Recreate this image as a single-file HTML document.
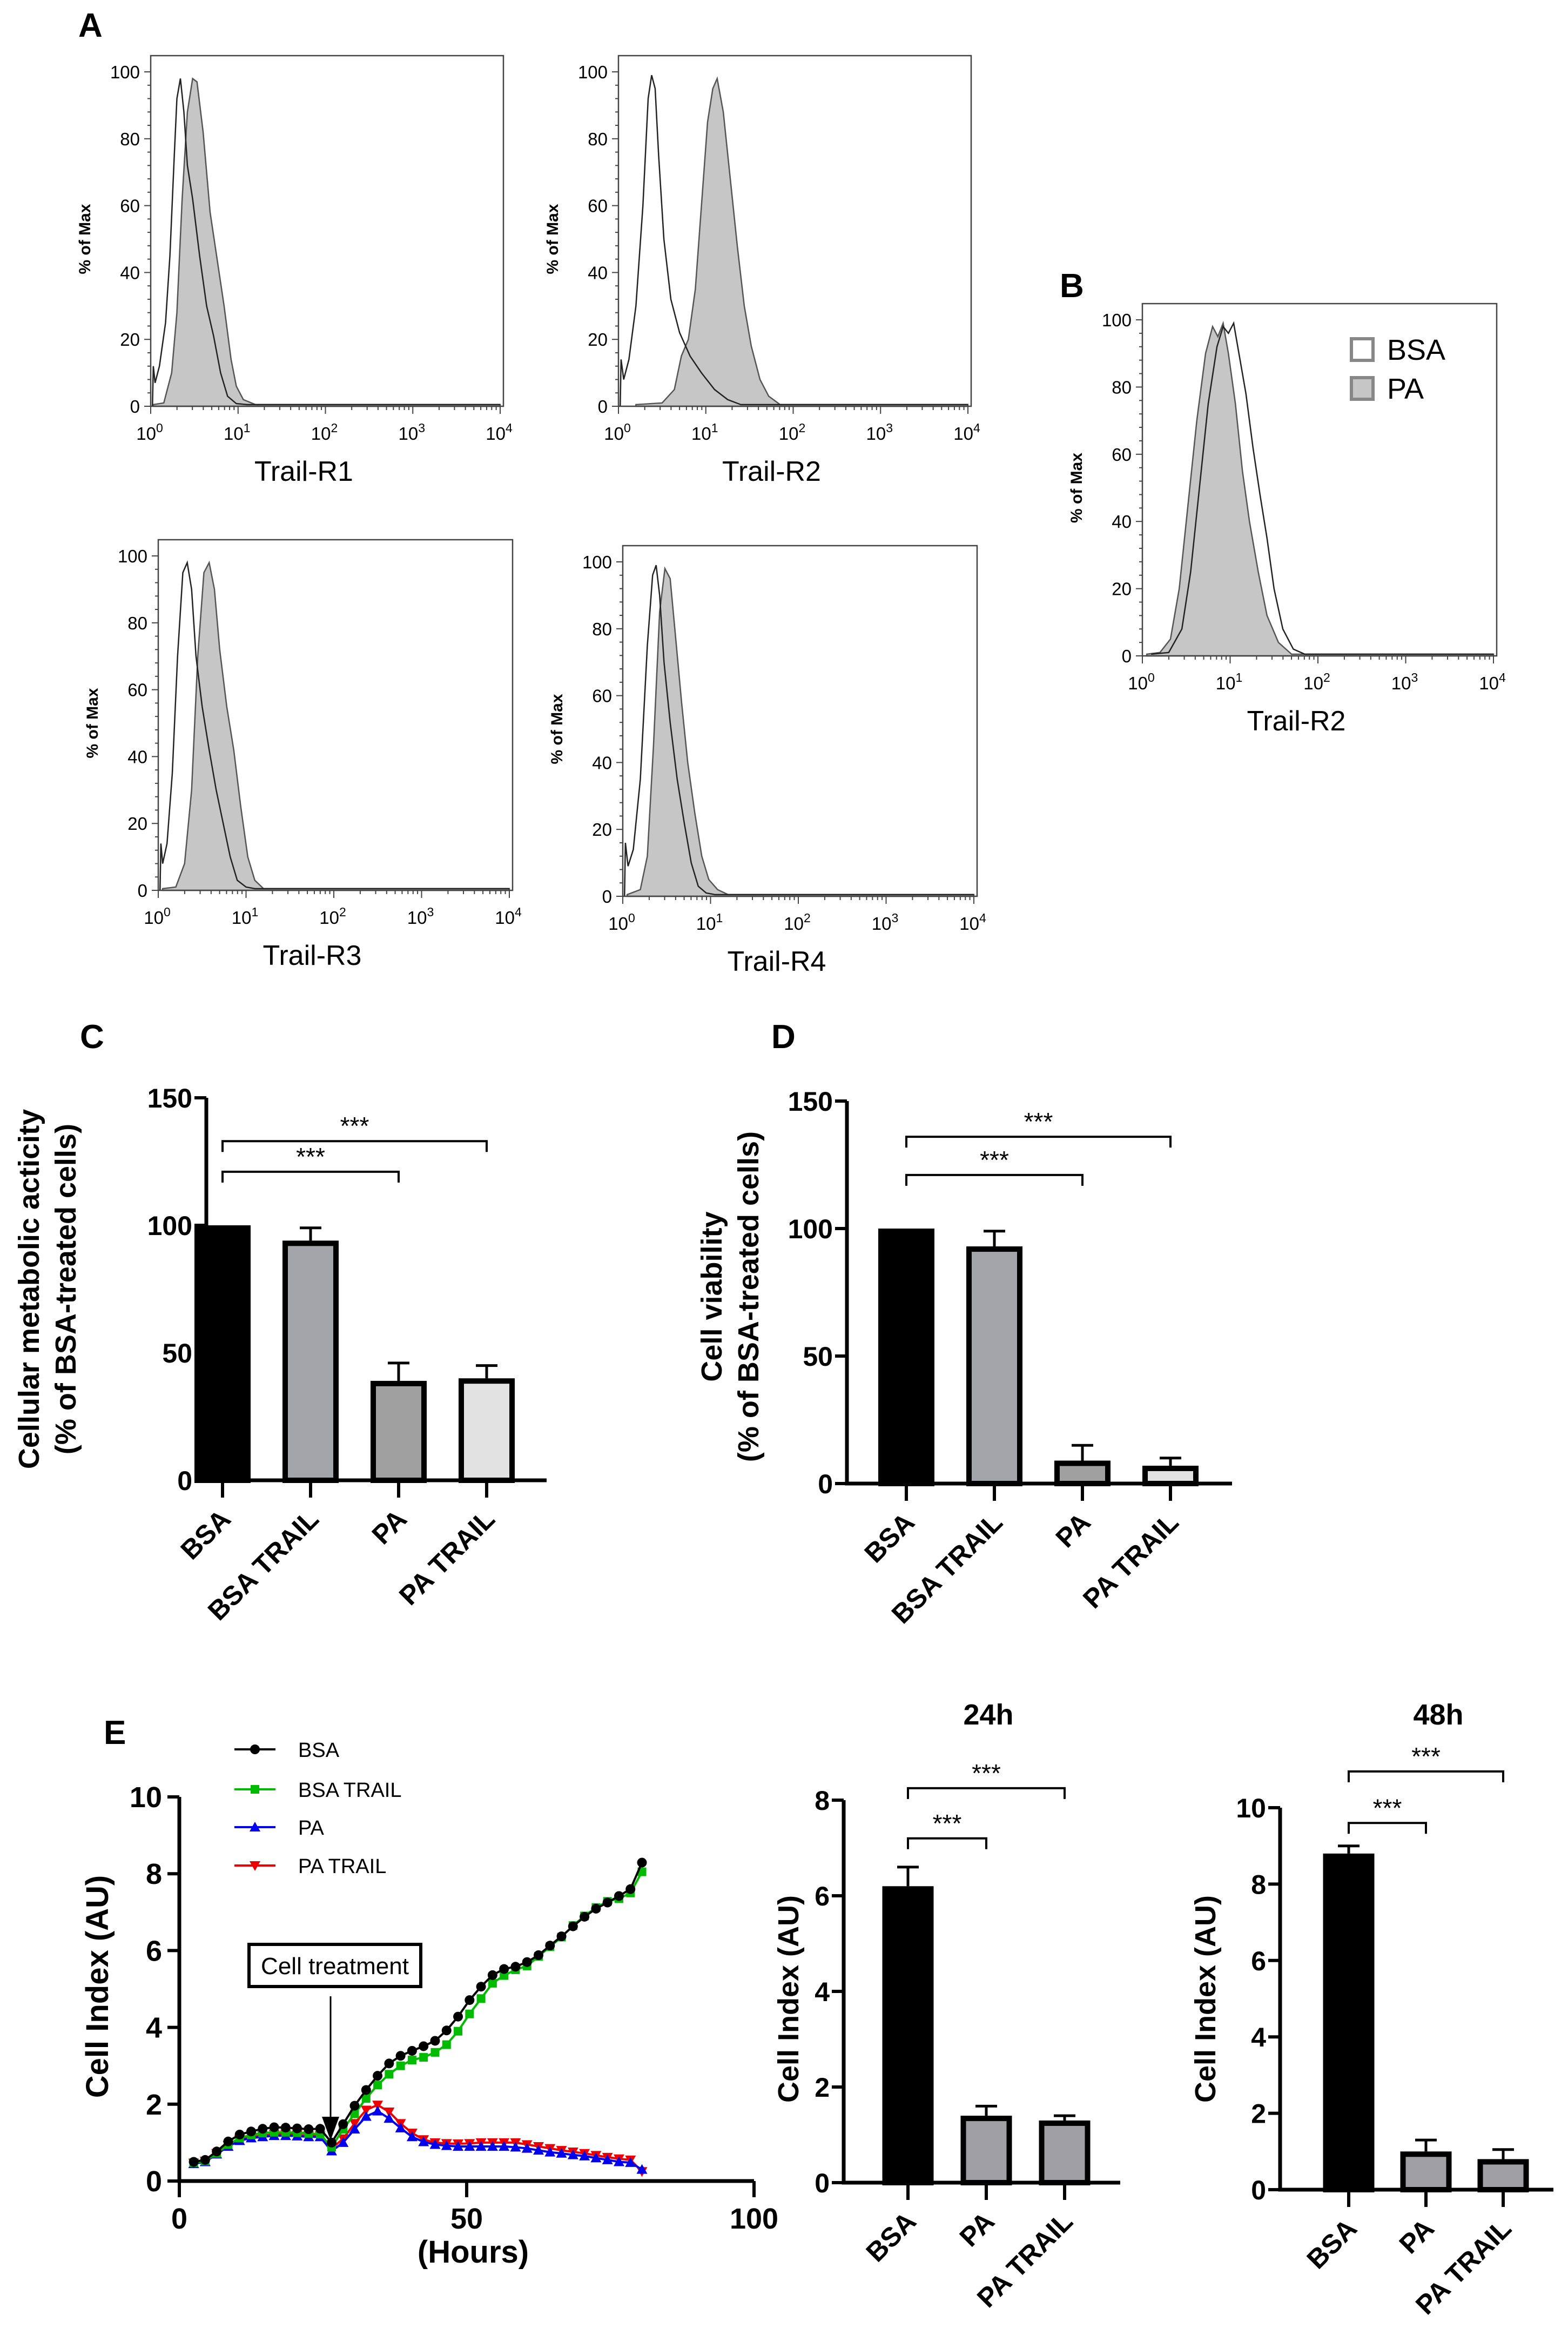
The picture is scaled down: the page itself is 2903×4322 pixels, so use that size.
<!DOCTYPE html>
<html><head><meta charset="utf-8"><style>
html,body{margin:0;padding:0;background:#fff;}
svg{display:block;font-family:"Liberation Sans",Arial,sans-serif;}
</style></head><body>
<svg id="fig" width="2903" height="4322" viewBox="0 0 2903 4322" xmlns="http://www.w3.org/2000/svg">
<rect width="2903" height="4322" fill="#fff"/>
<text x="145" y="68" font-size="62" font-weight="bold">A</text>
<text x="1962" y="550" font-size="62" font-weight="bold">B</text>
<text x="148" y="1940" font-size="62" font-weight="bold">C</text>
<text x="1428" y="1940" font-size="62" font-weight="bold">D</text>
<text x="192" y="3228" font-size="62" font-weight="bold">E</text>
</svg>
<script>
// ---- histogram data (log10 intensity, % of max) ----
const r1OpenX=[0.02,0.03,0.05,0.1,0.17,0.22,0.27,0.3,0.34,0.38,0.42,0.48,0.56,0.64,0.72,0.8,0.88,0.98,1.1,4];
const r1OpenY=[0,12,7,12,25,45,75,92,98,88,72,62,45,30,21,10,3,0.8,0.5,0.5];
const r1FillX=[0.03,0.15,0.24,0.3,0.36,0.42,0.48,0.53,0.6,0.68,0.76,0.84,0.92,0.98,1.06,1.2,4];
const r1FillY=[0.5,1,10,28,62,88,98,97,82,58,44,30,14,6,2,0.5,0.5];
const r2OpenX=[0.02,0.03,0.06,0.12,0.2,0.28,0.34,0.38,0.42,0.46,0.52,0.6,0.7,0.82,0.95,1.1,1.25,1.4,4];
const r2OpenY=[0,14,8,14,30,60,92,99,95,75,50,32,22,15,10,5,2,0.5,0.5];
const r2FillX=[0.2,0.5,0.64,0.72,0.8,0.88,0.95,1.02,1.08,1.13,1.2,1.28,1.36,1.44,1.52,1.62,1.72,1.85,4];
const r2FillY=[0.5,1,5,15,20,35,60,85,95,98,88,68,48,30,18,8,3,0.5,0.5];
const r3OpenX=[0.02,0.03,0.05,0.1,0.16,0.22,0.28,0.33,0.38,0.43,0.5,0.58,0.66,0.74,0.82,0.9,1.0,1.1,4];
const r3OpenY=[0,14,8,14,35,70,95,98,90,70,55,42,30,20,10,3,1,0.5,0.5];
const r3FillX=[0.05,0.2,0.3,0.38,0.45,0.52,0.58,0.64,0.7,0.78,0.86,0.94,1.02,1.1,1.2,4];
const r3FillY=[0.5,1,8,30,70,95,98,90,72,55,42,25,10,3,0.5,0.5];
const r4OpenX=[0.02,0.03,0.06,0.12,0.2,0.28,0.34,0.38,0.42,0.47,0.54,0.62,0.7,0.78,0.86,0.95,1.05,4];
const r4OpenY=[0,16,9,14,35,75,96,99,90,70,52,35,22,10,3,1,0.5,0.5];
const r4FillX=[0.05,0.2,0.28,0.35,0.42,0.48,0.54,0.6,0.67,0.74,0.82,0.9,0.98,1.08,1.2,4];
const r4FillY=[0.5,2,12,45,85,98,95,78,58,40,25,12,5,2,0.5,0.5];
const bOpenX=[0.1,0.3,0.45,0.55,0.65,0.75,0.85,0.92,0.98,1.04,1.1,1.18,1.26,1.34,1.42,1.5,1.6,1.72,1.85,4];
const bOpenY=[0.5,1,8,25,50,75,92,98,96,99,90,78,62,48,35,20,8,2,0.5,0.5];
const bFillX=[0.05,0.2,0.32,0.42,0.52,0.62,0.72,0.8,0.86,0.92,0.98,1.06,1.14,1.22,1.32,1.42,1.55,1.7,4];
const bFillY=[0.5,1,5,20,45,70,90,98,95,99,90,75,55,40,25,12,4,0.5,0.5];
const histYTicks=[0,20,40,60,80,100];
const histXExp=[0,1,2,3,4];

// ---- bar chart data ----
const cdCats=['BSA','BSA TRAIL','PA','PA TRAIL'];
const cVals=[100,94,39,40];
const cErrs=[0,5,7,5];
const dVals=[100,93,9,7];
const dErrs=[0,6,6,3];
const cdTicks=[0,50,100,150];
const eCats=['BSA','PA','PA TRAIL'];
const e24Vals=[6.2,1.4,1.3];
const e24Errs=[0.4,0.2,0.1];
const e24Ticks=[0,2,4,6,8];
const e48Vals=[8.8,1.0,0.8];
const e48Errs=[0.2,0.3,0.25];
const e48Ticks=[0,2,4,6,8,10];

// ---- line chart data ----
const hours=[2.5,4.5,6.5,8.5,10.5,12.5,14.5,16.5,18.5,20.5,22.5,24.5,26.5,28.5,30.5,32.5,34.5,36.5,38.5,40.5,42.5,44.5,46.5,48.5,50.5,52.5,54.5,56.5,58.5,60.5,62.5,64.5,66.5,68.5,70.5,72.5,74.5,76.5,78.5,80.5];
const bsa=[0.5,0.55,0.77,1.03,1.21,1.29,1.36,1.40,1.39,1.37,1.35,1.36,1.0,1.48,1.96,2.37,2.74,3.06,3.26,3.39,3.51,3.65,3.92,4.28,4.71,5.06,5.36,5.52,5.58,5.70,5.88,6.13,6.37,6.63,6.88,7.09,7.25,7.42,7.6,8.29];
const bsaTrail=[0.48,0.52,0.72,0.95,1.12,1.2,1.25,1.27,1.27,1.26,1.24,1.22,0.88,1.35,1.75,2.15,2.5,2.78,3.0,3.15,3.22,3.35,3.55,3.9,4.35,4.75,5.15,5.35,5.5,5.6,5.85,6.1,6.35,6.65,6.9,7.12,7.28,7.35,7.5,8.05];
const pa=[0.45,0.5,0.7,0.9,1.05,1.12,1.15,1.18,1.18,1.17,1.15,1.15,0.78,1.0,1.35,1.68,1.82,1.63,1.38,1.15,1.02,0.95,0.92,0.9,0.9,0.9,0.9,0.9,0.88,0.85,0.8,0.75,0.72,0.68,0.65,0.6,0.55,0.5,0.48,0.3];
const paTrail=[0.47,0.52,0.72,0.93,1.08,1.15,1.18,1.22,1.22,1.2,1.18,1.18,0.85,1.1,1.5,1.85,1.98,1.8,1.5,1.25,1.08,1.0,0.98,0.97,0.98,1.0,1.0,1.0,1.0,0.95,0.9,0.85,0.8,0.76,0.72,0.67,0.62,0.58,0.55,0.25];
const lineXTicks=[0,50,100];
const lineYTicks=[0,2,4,6,8,10];

const NS='http://www.w3.org/2000/svg';
const svg=document.getElementById('fig');
function mk(tag,parent){const e=document.createElementNS(NS,tag);parent.appendChild(e);return e;}
function set(e,o){for(const k in o)e.setAttribute(k,o[k]);return e;}

function hist(name,cfg,oX,oY,fX,fY,title){
  const g=mk('g',svg);
  
  
  const xs=v=>cfg.x0+v/4*(cfg.x1-cfg.x0);
  const ys=v=>cfg.y0-v/100*(cfg.y0-cfg.y100);
  let d='M'+xs(fX[0])+','+cfg.y0;
  for(let i=0;i<fX.length;i++)d+=' L'+xs(fX[i])+','+ys(fY[i]);
  d+=' L'+xs(fX[fX.length-1])+','+cfg.y0+' Z';
  const f=mk('path',g);
  
  
  set(f,{d:d,fill:'#c6c6c6',stroke:'#555','stroke-width':2.5});
  let pts='';
  for(let i=0;i<oX.length;i++)pts+=xs(oX[i])+','+ys(oY[i])+' ';
  const o=mk('polyline',g);
  
  
  set(o,{points:pts,fill:'none',stroke:'#222','stroke-width':2.5});
  const top=cfg.y100-30;
  const fr=mk('rect',g);
  
  
  set(fr,{x:cfg.x0,y:top,width:cfg.x1-cfg.x0+6,height:cfg.y0-top,fill:'none',stroke:'#444','stroke-width':2.5});
  for(let v=0;v<=100;v+=4){const t=mk('line',g);set(t,{x1:cfg.x0,x2:cfg.x0-(v%20==0?12:6),y1:ys(v),y2:ys(v),stroke:'#444','stroke-width':2});}
  histYTicks.forEach(v=>{const t=mk('text',g);
    
    
    set(t,{x:cfg.x0-20,y:ys(v)+12,'text-anchor':'end','font-size':33});t.textContent=v;});
  for(let e=0;e<4;e++)for(let m=1;m<10;m++){const lx=xs(e+Math.log10(m));const t=mk('line',g);set(t,{x1:lx,x2:lx,y1:cfg.y0,y2:cfg.y0+(m==1?14:7),stroke:'#444','stroke-width':2});}
  {const t=mk('line',g);set(t,{x1:xs(4),x2:xs(4),y1:cfg.y0,y2:cfg.y0+14,stroke:'#444','stroke-width':2});}
  histXExp.forEach(e=>{const t=mk('text',g);
    
    
    set(t,{x:xs(e)-2,y:cfg.y0+62,'text-anchor':'middle','font-size':33});
    t.textContent='10';const s=mk('tspan',t);set(s,{dy:-14,'font-size':23});s.textContent=e;});
  const yl=mk('text',g);
  
  
  const cy=(cfg.y0+cfg.y100)/2;
  set(yl,{x:cfg.x0-112,y:cy,transform:'rotate(-90 '+(cfg.x0-112)+' '+cy+')','text-anchor':'middle','font-size':30,'font-weight':'bold'});
  yl.textContent='% of Max';
  const tl=mk('text',g);
  
  
  set(tl,{x:(cfg.x0+cfg.x1)/2-40,y:cfg.y0+138,'text-anchor':'middle','font-size':52});
  tl.textContent=title;
}
hist('histogram-trail-r1',{x0:279,x1:926,y100:133,y0:752},r1OpenX,r1OpenY,r1FillX,r1FillY,'Trail-R1');
hist('histogram-trail-r2',{x0:1145,x1:1792,y100:133,y0:752},r2OpenX,r2OpenY,r2FillX,r2FillY,'Trail-R2');
hist('histogram-trail-r3',{x0:293,x1:943,y100:1029,y0:1648},r3OpenX,r3OpenY,r3FillX,r3FillY,'Trail-R3');
hist('histogram-trail-r4',{x0:1153,x1:1803,y100:1040,y0:1659},r4OpenX,r4OpenY,r4FillX,r4FillY,'Trail-R4');
hist('histogram-b-trail-r2',{x0:2115,x1:2765,y100:592,y0:1214},bOpenX,bOpenY,bFillX,bFillY,'Trail-R2');
[['BSA','#fff',647],['PA','#c6c6c6',719]].forEach(a=>{
  const r=mk('rect',svg);
  
  
  set(r,{x:2502,y:a[2]-20,width:40,height:40,fill:a[1],stroke:'#888','stroke-width':6});
  const t=mk('text',svg);
  
  
  set(t,{x:2568,y:a[2]+19,'font-size':54});t.textContent=a[0];
});

function barChart(name,cfg,cats,vals,errs,ticks,colors,sig,ylab){
  const g=mk('g',svg);
  
  
  const ys=v=>cfg.y0-v/cfg.ymax*(cfg.y0-cfg.ytop);
  const xc=i=>cfg.xa+cfg.first+i*cfg.step;
  vals.forEach((v,i)=>{
    const e=mk('line',g);
    
    
    set(e,{x1:xc(i),x2:xc(i),y1:ys(v),y2:ys(v+errs[i]),stroke:'#000','stroke-width':5});
    if(errs[i]>0){const c=mk('line',g);set(c,{x1:xc(i)-20,x2:xc(i)+20,y1:ys(v+errs[i]),y2:ys(v+errs[i]),stroke:'#000','stroke-width':5});}
    const b=mk('rect',g);
    
    
    set(b,{x:xc(i)-cfg.bw/2+5,y:ys(v)+5,width:cfg.bw-10,height:Math.max(0,cfg.y0-ys(v)-5),fill:colors[i],stroke:'#000','stroke-width':10});
    const tk=mk('line',g);set(tk,{x1:xc(i),x2:xc(i),y1:cfg.y0,y2:cfg.y0+32,stroke:'#000','stroke-width':6});
    const t=mk('text',g);
    
    
    const tx=xc(i)+18,ty=cfg.y0+75;
    set(t,{x:tx,y:ty,transform:'rotate(-45 '+tx+' '+ty+')','text-anchor':'end','font-size':cfg.fs,'font-weight':'bold'});
    t.textContent=cats[i];
  });
  const ax=mk('path',g);
  
  
  set(ax,{d:'M'+cfg.xa+','+ys(ticks[ticks.length-1])+' L'+cfg.xa+','+cfg.y0+' L'+cfg.xend+','+cfg.y0,fill:'none',stroke:'#000','stroke-width':7});
  ticks.forEach(v=>{
    const l=mk('line',g);set(l,{x1:cfg.xa,x2:cfg.xa-22,y1:ys(v),y2:ys(v),stroke:'#000','stroke-width':6});
    const t=mk('text',g);
    
    
    set(t,{x:cfg.xa-26,y:ys(v)+18,'text-anchor':'end','font-size':cfg.fs,'font-weight':'bold'});t.textContent=v;
  });
  sig.forEach(s=>{
    const p=mk('path',g);
    
    
    const yy=ys(s[2]);
    set(p,{d:'M'+xc(s[0])+','+(yy+20)+' V'+yy+' H'+xc(s[1])+' V'+(yy+20),fill:'none',stroke:'#000','stroke-width':4});
    const t=mk('text',g);
    
    
    set(t,{x:(xc(s[0])+xc(s[1]))/2,y:yy-12,'text-anchor':'middle','font-size':46});t.textContent='***';
  });
  ylab.forEach((l,i)=>{
    const t=mk('text',g);
    
    
    set(t,{x:l[1],y:l[2],transform:'rotate(-90 '+l[1]+' '+l[2]+')','text-anchor':'middle','font-size':cfg.lfs,'font-weight':'bold'});t.textContent=l[0];
  });
  if(cfg.title){const t=mk('text',g);
    
    
    set(t,{x:cfg.title[1],y:cfg.title[2],'text-anchor':'middle','font-size':54,'font-weight':'bold'});t.textContent=cfg.title[0];}
}
const cdColors=['#000','#a4a5aa','#a0a0a0','#e2e2e2'];
barChart('bar-chart-c',{xa:382,xend:1012,y0:2740,ytop:2032,ymax:150,first:30,step:163,bw:104,fs:50,lfs:54},cdCats,cVals,cErrs,cdTicks,cdColors,[[0,2,121],[0,3,133]],[['Cellular metabolic acticity',72,2386],['(% of BSA-treated cells)',140,2386]]);
barChart('bar-chart-d',{xa:1568,xend:2281,y0:2746,ytop:2038,ymax:150,first:110,step:163,bw:104,fs:50,lfs:54},cdCats,dVals,dErrs,cdTicks,cdColors,[[0,2,121],[0,3,136]],[['Cell viability',1336,2400],['(% of BSA-treated cells)',1404,2400]]);
const eColors=['#000','#a0a0a4','#a0a0a4'];
barChart('bar-chart-24h',{xa:1562,xend:2074,y0:4040,ytop:3332,ymax:8,first:119,step:145,bw:95,fs:50,lfs:54,title:['24h',1830,3192]},eCats,e24Vals,e24Errs,e24Ticks,eColors,[[0,1,7.2],[0,2,8.25]],[['Cell Index (AU)',1478,3700]]);
barChart('bar-chart-48h',{xa:2370,xend:2876,y0:4053,ytop:3346,ymax:10,first:127,step:143,bw:95,fs:50,lfs:54,title:['48h',2663,3192]},eCats,e48Vals,e48Errs,e48Ticks,eColors,[[0,1,9.6],[0,2,10.95]],[['Cell Index (AU)',2250,3700]]);

(function(){
  const g=mk('g',svg);
  
  
  const x0=332,x100=1396,y0=4037,y10=3326;
  const xs=v=>x0+v/100*(x100-x0);
  const ys=v=>y0-v/10*(y0-y10);
  const series=[[bsa,'#000','circle','BSA',3238],[bsaTrail,'#00bb00','square','BSA TRAIL',3312],[pa,'#0000ee','up','PA',3382],[paTrail,'#ee0000','down','PA TRAIL',3453]];
  function marker(p,type,cx,cy,col){
    let m;
    if(type=='circle'){m=mk('circle',p);set(m,{cx:cx,cy:cy,r:9,fill:col});}
    else if(type=='square'){m=mk('rect',p);set(m,{x:cx-8,y:cy-8,width:16,height:16,fill:col});}
    else if(type=='up'){m=mk('polygon',p);set(m,{points:(cx-10)+','+(cy+8)+' '+(cx+10)+','+(cy+8)+' '+cx+','+(cy-10),fill:col});}
    else {m=mk('polygon',p);set(m,{points:(cx-10)+','+(cy-8)+' '+(cx+10)+','+(cy-8)+' '+cx+','+(cy+10),fill:col});}
    return m;
  }
  [3,2,1,0].forEach(k=>{
    const s=series[k];
    const sg=mk('g',g);
    
    
    let pts='';hours.forEach((h,i)=>pts+=xs(h)+','+ys(s[0][i])+' ');
    const pl=mk('polyline',sg);set(pl,{points:pts,fill:'none',stroke:s[1],'stroke-width':4});
    hours.forEach((h,i)=>{const m=marker(sg,s[2],xs(h),ys(s[0][i]),s[1]);
      
      });
  });
  series.forEach(s=>{
    const lg=mk('g',g);
    
    
    const l=mk('line',lg);set(l,{x1:434,x2:510,y1:s[4],y2:s[4],stroke:s[1],'stroke-width':4});
    marker(lg,s[2],472,s[4],s[1]);
    const t=mk('text',lg);set(t,{x:552,y:s[4]+14,'font-size':38});t.textContent=s[3];
  });
  const ax=mk('path',g);
  
  
  set(ax,{d:'M'+x0+','+y10+' L'+x0+','+y0+' L'+x100+','+y0,fill:'none',stroke:'#000','stroke-width':7});
  lineYTicks.forEach(v=>{const l=mk('line',g);set(l,{x1:x0,x2:x0-22,y1:ys(v),y2:ys(v),stroke:'#000','stroke-width':6});
    const t=mk('text',g);
    
    
    set(t,{x:x0-32,y:ys(v)+19,'text-anchor':'end','font-size':54,'font-weight':'bold'});t.textContent=v;});
  lineXTicks.forEach(v=>{const l=mk('line',g);set(l,{x1:xs(v),x2:xs(v),y1:y0,y2:y0+30,stroke:'#000','stroke-width':6});
    const t=mk('text',g);
    
    
    set(t,{x:xs(v),y:y0+88,'text-anchor':'middle','font-size':54,'font-weight':'bold'});t.textContent=v;});
  const yl=mk('text',g);
  
  
  set(yl,{x:200,y:3677,transform:'rotate(-90 200 3677)','text-anchor':'middle','font-size':58,'font-weight':'bold'});yl.textContent='Cell Index (AU)';
  const xl=mk('text',g);
  
  
  set(xl,{x:876,y:4188,'text-anchor':'middle','font-size':58,'font-weight':'bold'});xl.textContent='(Hours)';
  const bx=mk('rect',g);
  
  
  set(bx,{x:461,y:3599,width:318,height:78,fill:'#fff',stroke:'#000','stroke-width':6});
  const bt=mk('text',g);
  
  
  set(bt,{x:620,y:3654,'text-anchor':'middle','font-size':44});bt.textContent='Cell treatment';
  const ar=mk('line',g);
  
  
  set(ar,{x1:612,x2:612,y1:3695,y2:3920,stroke:'#000','stroke-width':3});
  const ah=mk('polygon',g);set(ah,{points:'596,3918 628,3918 612,3962',fill:'#000'});
})();
</script>
</body></html>
